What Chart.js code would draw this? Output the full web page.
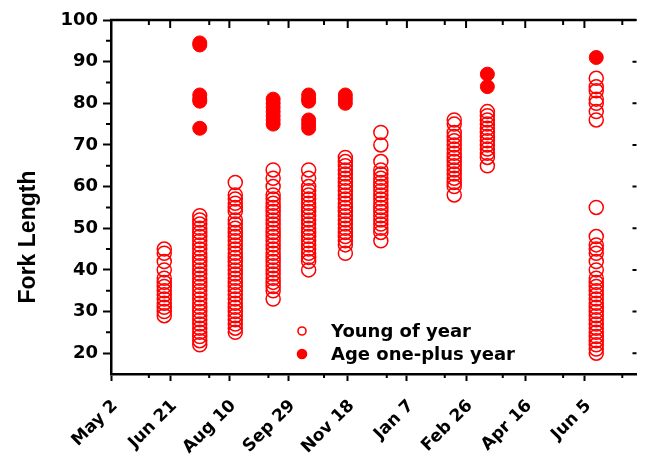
<!DOCTYPE html>
<html>
<head>
<meta charset="utf-8">
<title>Fork Length</title>
<script src="https://cdn.jsdelivr.net/npm/chart.js@4.4.1/dist/chart.umd.min.js"></script>
<style>
    html, body { margin: 0; padding: 0; background: #fff; }
    #chartWrap { width: 645px; height: 461px; }
</style>
</head>
<body>
<div id="chartWrap"><canvas id="forkLengthChart"></canvas></div>
<script>
// Sampling dates, in days after May 2
const sampleDays = [45, 75, 105, 137, 167, 198, 228, 290, 318, 410];

// Young of year fork lengths, one list per sampling date
const youngLengths = [
    [45, 44, 42, 40, 38, 37, 36, 35, 34, 33, 32, 31, 30, 29],
    [53, 52, 51, 50, 49, 48, 47, 46, 45, 44, 43, 42, 41, 40, 39, 38, 37, 36, 35, 34, 33, 32, 31, 30, 29, 28, 27, 26, 25, 24, 23, 22],
    [61, 58, 57, 56, 55, 54, 52, 51, 50, 49, 48, 47, 46, 45, 44, 43, 42, 41, 40, 39, 38, 37, 36, 35, 34, 33, 32, 31, 30, 29, 28, 27, 26, 25],
    [64, 62, 60, 58, 57, 56, 55, 54, 53, 52, 51, 50, 49, 48, 47, 46, 45, 44, 43, 42, 41, 40, 39, 38, 37, 36, 35, 33],
    [64, 62, 60, 59, 58, 57, 56, 55, 54, 53, 52, 51, 50, 49, 48, 47, 46, 45, 44, 43, 42, 40],
    [67, 66, 65, 64, 63, 62, 61, 60, 59, 58, 57, 56, 55, 54, 53, 52, 51, 50, 49, 48, 47, 46, 44],
    [73, 70, 66, 64, 63, 62, 61, 60, 59, 58, 57, 56, 55, 54, 53, 52, 51, 50, 49, 47],
    [76, 75, 73, 72, 71, 70, 69, 68, 67, 66, 65, 64, 63, 62, 61, 60, 58],
    [78, 77, 76, 75, 74, 73, 72, 71, 70, 69, 68, 67, 65],
    [86, 84, 83, 81, 80, 78, 76, 55, 48, 46, 45, 44, 42, 40, 38, 37, 36, 35, 34, 33, 32, 31, 30, 29, 28, 27, 26, 25, 24, 23, 22, 21, 20]
];

// Age one-plus year fork lengths
const adultLengths = [
    [],
    [94.5, 94, 82, 81, 80.5, 74],
    [],
    [81, 80, 79, 78, 77, 76, 75],
    [82, 81, 80.5, 76, 75, 74],
    [82, 81, 80],
    [],
    [],
    [87, 84],
    [91]
];

// Axis ticks
const xTickDays = [0, 50, 100, 150, 200, 250, 300, 350, 400];
const xTickLabels = ['May 2', 'Jun 21', 'Aug 10', 'Sep 29', 'Nov 18', 'Jan 7', 'Feb 26', 'Apr 16', 'Jun 5'];
const xMinorDays = [32, 83, 133, 180, 233, 282, 331, 382, 432];
const yTickValues = [20, 30, 40, 50, 60, 70, 80, 90, 100];
const yMinorValues = [25, 35, 45, 55, 65, 75, 85, 95];

const RED = 'rgb(255, 0, 0)';
const INK = '#000';

function toPoints(lists) {
    const points = [];
    lists.forEach((lengths, i) => {
        lengths.forEach(len => points.push({ x: sampleDays[i], y: len }));
    });
    return points;
}

// Box frame: top line, mirrored ticks and minor ticks
const frameTicks = {
    id: 'frameTicks',
    afterDraw(chart) {
        const { ctx, chartArea: area, scales: { x, y } } = chart;
        ctx.save();
        ctx.strokeStyle = INK;
        ctx.lineWidth = 2.5;
        ctx.beginPath();
        ctx.moveTo(area.left - 1, area.top);
        ctx.lineTo(area.right, area.top);
        ctx.stroke();

        ctx.lineWidth = 2;
        ctx.beginPath();
        xTickDays.forEach(d => {
            const px = x.getPixelForValue(d);
            ctx.moveTo(px, area.top);
            ctx.lineTo(px, area.top + 8);
        });
        xMinorDays.forEach(d => {
            const px = x.getPixelForValue(d);
            ctx.moveTo(px, area.top);
            ctx.lineTo(px, area.top + 5);
            ctx.moveTo(px, area.bottom);
            ctx.lineTo(px, area.bottom + 4);
        });
        yMinorValues.forEach(v => {
            const py = y.getPixelForValue(v);
            ctx.moveTo(area.left, py);
            ctx.lineTo(area.left - 5, py);
        });
        yTickValues.forEach(v => {
            const py = y.getPixelForValue(v);
            ctx.moveTo(area.right, py);
            ctx.lineTo(area.right - 4, py);
        });
        ctx.stroke();
        ctx.restore();
    }
};

// Legend inside the plot and the rotated axis title
const innerLegend = {
    id: 'innerLegend',
    afterDraw(chart) {
        const ctx = chart.ctx;
        ctx.save();
        ctx.font = 'bold 18px "DejaVu Sans"';
        ctx.textBaseline = 'middle';
        ctx.textAlign = 'left';
        chart.data.datasets.forEach((ds, i) => {
            const rowY = 331 + i * 23;
            ctx.beginPath();
            ctx.arc(302, rowY, ds.legendRadius, 0, Math.PI * 2);
            ctx.lineWidth = 1.6;
            ctx.strokeStyle = RED;
            ctx.stroke();
            if (ds.backgroundColor === RED) {
                ctx.fillStyle = RED;
                ctx.fill();
            }
            ctx.fillStyle = INK;
            ctx.fillText(ds.label, 331, rowY + 1);
        });

        ctx.translate(35, 237);
        ctx.rotate(-Math.PI / 2);
        ctx.font = 'bold 23px "Liberation Sans", Arial';
        ctx.textAlign = 'center';
        ctx.textBaseline = 'alphabetic';
        ctx.fillText('Fork Length', 0, 0);
        ctx.restore();
    }
};

function initializeForkLengthChart() {
    const ctx = document.getElementById('forkLengthChart').getContext('2d');
    new Chart(ctx, {
        type: 'scatter',
        data: {
            datasets: [{
                label: 'Young of year',
                data: toPoints(youngLengths),
                borderColor: RED,
                backgroundColor: 'rgba(255, 255, 255, 0)',
                pointRadius: 7,
                pointHoverRadius: 7,
                borderWidth: 1.5,
                legendRadius: 4
            }, {
                label: 'Age one-plus year',
                data: toPoints(adultLengths),
                borderColor: RED,
                backgroundColor: RED,
                pointRadius: 7,
                pointHoverRadius: 7,
                borderWidth: 1,
                legendRadius: 4.5
            }]
        },
        options: {
            responsive: true,
            maintainAspectRatio: false,
            animation: false,
            layout: {
                padding: { top: 20, right: 0, left: 0, bottom: 0 }
            },
            plugins: {
                legend: { display: false },
                tooltip: { enabled: false }
            },
            scales: {
                x: {
                    type: 'linear',
                    min: 0,
                    max: 444,
                    afterBuildTicks: axis => {
                        axis.ticks = xTickDays.map(v => ({ value: v }));
                    },
                    afterFit: scale => {
                        scale.height = 87;
                    },
                    ticks: {
                        autoSkip: false,
                        minRotation: 45,
                        maxRotation: 45,
                        padding: 15,
                        labelOffset: 4,
                        color: INK,
                        font: { family: '"DejaVu Sans"', weight: 'bold', size: 17 },
                        callback: v => xTickLabels[xTickDays.indexOf(v)]
                    },
                    grid: {
                        drawOnChartArea: false,
                        tickLength: 7,
                        tickWidth: 2,
                        tickColor: INK
                    },
                    border: { display: true, color: INK, width: 2.5 }
                },
                y: {
                    min: 15,
                    max: 100,
                    afterBuildTicks: axis => {
                        axis.ticks = yTickValues.map(v => ({ value: v }));
                    },
                    afterFit: scale => {
                        scale.width = 111;
                    },
                    ticks: {
                        padding: 5,
                        color: INK,
                        font: { family: '"DejaVu Sans"', weight: 'bold', size: 18 }
                    },
                    grid: {
                        drawOnChartArea: false,
                        tickLength: 8,
                        tickWidth: 2,
                        tickColor: INK
                    },
                    border: { display: true, color: INK, width: 2.5 }
                }
            }
        },
        plugins: [frameTicks, innerLegend]
    });
}

document.addEventListener('DOMContentLoaded', initializeForkLengthChart);
</script>
</body>
</html>
